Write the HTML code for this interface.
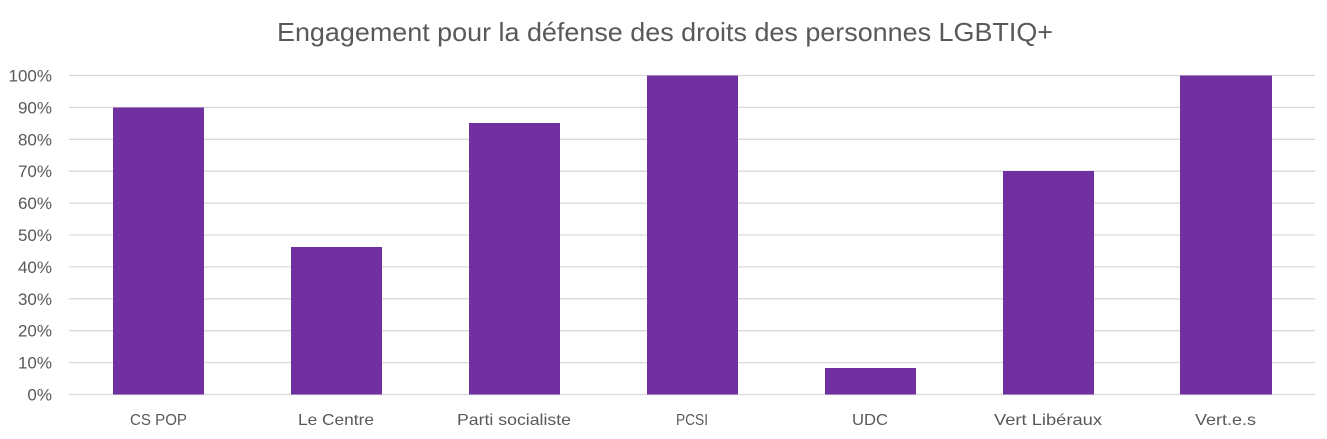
<!DOCTYPE html>
<html>
<head>
<meta charset="utf-8">
<style>
  html, body { margin: 0; padding: 0; background: #ffffff; }
  svg { display: block; }
  text { font-family: "Liberation Sans", Arial, sans-serif; fill: #595959; }
</style>
</head>
<body>
<svg width="1327" height="439" viewBox="0 0 1327 439" xmlns="http://www.w3.org/2000/svg">
  <rect x="0" y="0" width="1327" height="439" fill="#ffffff"/>
  <!-- Title -->
  <text x="665" y="41" font-size="26" text-anchor="middle" textLength="776" lengthAdjust="spacingAndGlyphs">Engagement pour la défense des droits des personnes LGBTIQ+</text>

  <!-- Gridlines -->
  <g stroke="#d9d9d9" stroke-width="1.3">
    <line x1="69" x2="1315" y1="75.5" y2="75.5"/>
    <line x1="69" x2="1315" y1="107.4" y2="107.4"/>
    <line x1="69" x2="1315" y1="139.3" y2="139.3"/>
    <line x1="69" x2="1315" y1="171.2" y2="171.2"/>
    <line x1="69" x2="1315" y1="203.1" y2="203.1"/>
    <line x1="69" x2="1315" y1="235.0" y2="235.0"/>
    <line x1="69" x2="1315" y1="266.9" y2="266.9"/>
    <line x1="69" x2="1315" y1="298.8" y2="298.8"/>
    <line x1="69" x2="1315" y1="330.7" y2="330.7"/>
    <line x1="69" x2="1315" y1="362.6" y2="362.6"/>
    <line x1="69" x2="1315" y1="394.5" y2="394.5"/>
  </g>

  <!-- Y axis labels -->
  <g font-size="17" text-anchor="end">
    <text x="52" y="81.5">100%</text>
    <text x="52" y="113.4">90%</text>
    <text x="52" y="145.3">80%</text>
    <text x="52" y="177.2">70%</text>
    <text x="52" y="209.1">60%</text>
    <text x="52" y="241.0">50%</text>
    <text x="52" y="272.9">40%</text>
    <text x="52" y="304.8">30%</text>
    <text x="52" y="336.7">20%</text>
    <text x="52" y="368.6">10%</text>
    <text x="52" y="400.5">0%</text>
  </g>

  <!-- Bars -->
  <g fill="#7030a0">
    <rect x="113" y="107.5" width="91" height="287"/>
    <rect x="291" y="247" width="91" height="147.5"/>
    <rect x="469" y="123" width="91" height="271.5"/>
    <rect x="647" y="75.5" width="91" height="319"/>
    <rect x="825" y="368" width="91" height="26.5"/>
    <rect x="1003" y="171" width="91" height="223.5"/>
    <rect x="1180" y="75.5" width="92" height="319"/>
  </g>

  <!-- Category labels -->
  <g font-size="16" text-anchor="middle">
    <text x="158.5" y="425" textLength="57" lengthAdjust="spacingAndGlyphs">CS POP</text>
    <text x="336" y="425" textLength="76" lengthAdjust="spacingAndGlyphs">Le Centre</text>
    <text x="514" y="425" textLength="114" lengthAdjust="spacingAndGlyphs">Parti socialiste</text>
    <text x="692" y="425" textLength="32" lengthAdjust="spacingAndGlyphs">PCSI</text>
    <text x="870" y="425" textLength="36" lengthAdjust="spacingAndGlyphs">UDC</text>
    <text x="1048" y="425" textLength="108" lengthAdjust="spacingAndGlyphs">Vert Libéraux</text>
    <text x="1225.5" y="425" textLength="61" lengthAdjust="spacingAndGlyphs">Vert.e.s</text>
  </g>
</svg>
</body>
</html>
